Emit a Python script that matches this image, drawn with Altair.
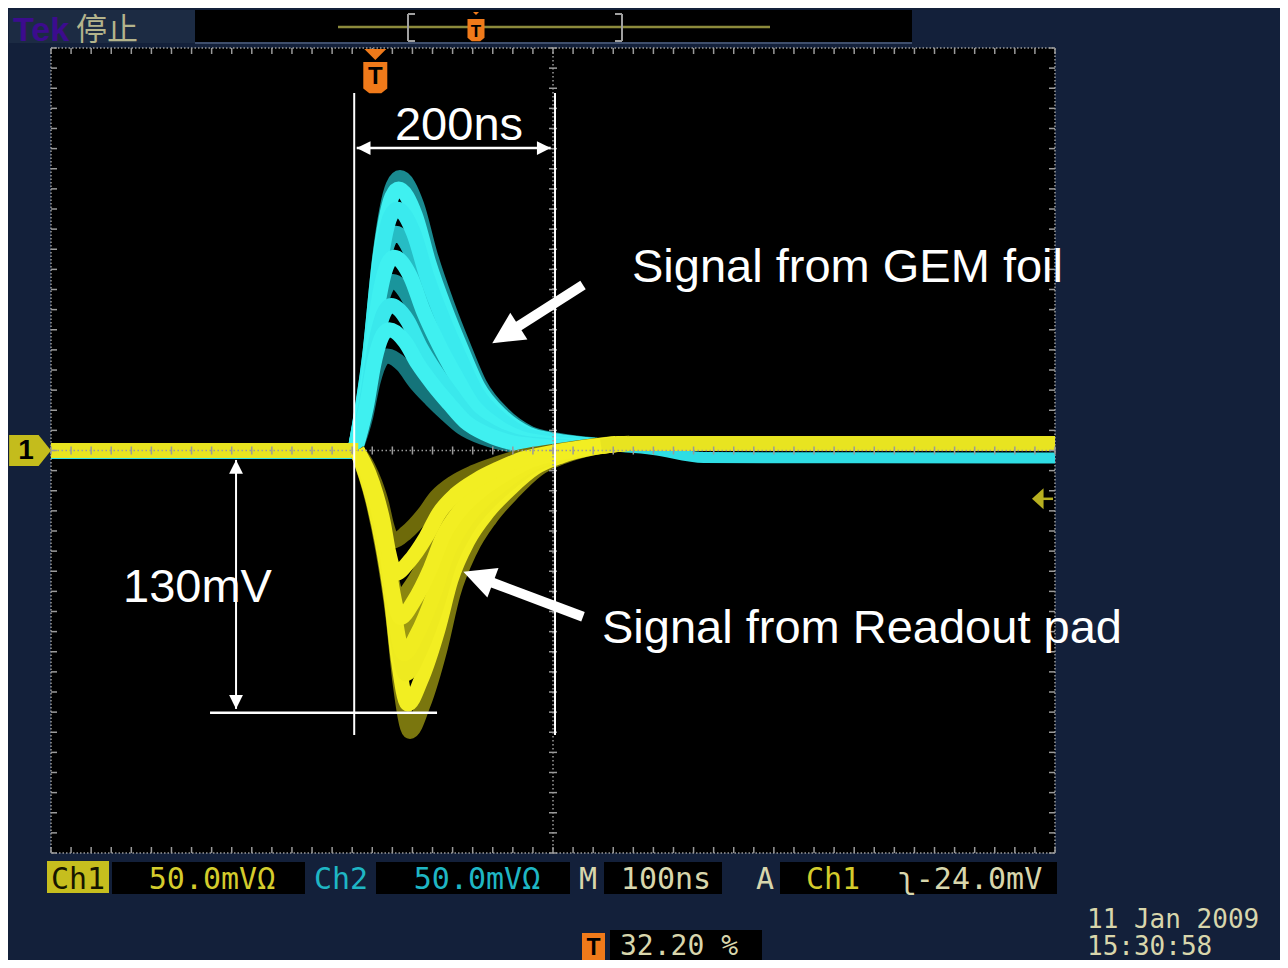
import altair as alt
import pandas as pd

# ---------------- values read from the oscilloscope screen ----------------
# time: ns from the left graticule edge (100 ns/div); voltage: mV (50 mV/div)
X_DOMAIN = [0, 1000]
Y_DOMAIN = [-200, 200]

# Ch2 (cyan, signal from GEM foil) - persistence traces, outer -> inner
CH2_T = [
    [302.8, 317.7, 327.7, 340.6, 347.6, 364.2, 377.5, 394.1, 410.4, 427.1, 450.2, 477.1, 504.0, 543.6],
    [302.8, 317.3, 327.0, 339.5, 346.3, 362.8, 376.1, 392.6, 408.8, 425.4, 448.4, 475.2, 501.9, 541.3],
    [302.8, 316.8, 326.2, 338.2, 344.8, 361.2, 374.4, 390.8, 407.0, 423.5, 446.4, 473.0, 499.6, 538.8],
    [302.8, 316.3, 325.3, 337.0, 343.3, 359.6, 372.6, 388.9, 404.8, 421.2, 443.8, 470.2, 496.6, 535.4],
    [302.8, 315.8, 324.5, 335.7, 341.8, 358.0, 371.0, 387.1, 403.0, 419.3, 441.8, 468.1, 494.3, 532.9],
    [302.8, 315.3, 323.7, 334.5, 340.3, 356.4, 369.3, 385.4, 401.2, 417.4, 439.8, 465.9, 492.0, 530.4],
    [302.8, 314.8, 322.8, 333.2, 338.8, 354.7, 367.5, 383.4, 399.1, 415.1, 437.3, 463.1, 488.9, 527.0],
    [302.8, 314.1, 321.7, 331.5, 336.8, 352.6, 365.2, 381.0, 396.5, 412.3, 434.3, 459.8, 485.4, 523.0],
    [302.8, 313.5, 320.6, 329.8, 334.8, 350.4, 362.9, 378.5, 393.8, 409.5, 431.2, 456.5, 481.8, 519.0],
]
CH2_V = [
    [0, 48.8, 97.6, 131.5, 135.6, 122.1, 97.6, 73.2, 52.3, 32.8, 18.1, 8.5, 5.2, 2.7],
    [0, 46.8, 93.6, 126.1, 130.0, 117.0, 93.6, 70.2, 50.2, 31.5, 17.4, 8.2, 4.9, 2.6],
    [0, 43.2, 86.4, 116.4, 120.0, 108.0, 86.4, 64.8, 46.3, 29.0, 16.1, 7.6, 4.6, 2.4],
    [0, 38.9, 77.8, 104.8, 108.0, 97.2, 77.8, 58.3, 41.7, 26.1, 14.5, 6.8, 4.1, 2.2],
    [0, 34.6, 69.1, 93.1, 96.0, 86.4, 69.1, 51.8, 37.1, 23.2, 12.9, 6.0, 3.6, 1.9],
    [0, 30.2, 60.5, 81.5, 84.0, 75.6, 60.5, 45.4, 32.4, 20.3, 11.3, 5.3, 3.2, 1.7],
    [0, 25.9, 51.8, 69.8, 72.0, 64.8, 51.8, 38.9, 27.8, 17.4, 9.6, 4.5, 2.7, 1.4],
    [0, 21.6, 43.2, 58.2, 60.0, 54.0, 43.2, 32.4, 23.2, 14.5, 8.0, 3.8, 2.3, 1.2],
    [0, 16.9, 33.8, 45.6, 47.0, 42.3, 33.8, 25.4, 18.1, 11.4, 6.3, 3.0, 1.8, 0.9],
]
CH2_SHADE = ["#1a8a90", "#3ff0f0", "#3aeaee", "#26bcc4", "#3ff0f0", "#1a959c", "#3ae8ec", "#3ff0f0", "#15747a"]
CH2_BASE_T = [0, 304]
CH2_BASE_V = [-1.5, -1.5]
CH2_TAIL_T = [536, 600, 650, 1000]
CH2_TAIL_V = [2.8, 0.5, -3.5, -3.7]

# Ch1 (yellow, signal from readout pad) - persistence traces, outer -> inner
CH1_T = [
    [305, 320.7, 330.7, 340.6, 347.6, 357.6, 370.5, 387.5, 400.4, 417.3, 437.3, 460.2, 484.1, 510.0, 543.8, 576.6],
    [305, 320.0, 329.7, 339.2, 345.9, 355.5, 368.4, 385.4, 398.3, 415.2, 435.2, 458.1, 482.0, 507.9, 541.7, 574.5],
    [305, 319.5, 328.7, 337.8, 344.3, 353.5, 366.4, 383.4, 396.3, 413.2, 433.2, 456.1, 480.0, 505.9, 539.7, 572.5],
    [305, 318.9, 327.7, 336.5, 342.7, 351.5, 364.4, 381.4, 394.3, 411.2, 431.2, 454.1, 478.0, 503.9, 537.7, 570.5],
    [305, 318.4, 327.0, 335.5, 341.5, 350.0, 362.9, 379.9, 392.8, 409.7, 429.7, 452.6, 476.5, 502.4, 536.2, 569.0],
    [305, 317.8, 326.0, 334.1, 339.8, 348.0, 360.9, 377.9, 390.8, 407.7, 427.7, 450.6, 474.5, 500.4, 534.2, 567.0],
    [305, 317.2, 325.0, 332.8, 338.2, 346.0, 358.9, 375.9, 388.8, 405.7, 425.7, 448.6, 472.5, 498.4, 532.2, 565.0],
    [305, 316.5, 323.8, 331.1, 336.2, 343.5, 356.4, 373.4, 386.3, 403.2, 423.2, 446.1, 470.0, 495.9, 529.7, 562.5],
    [305, 315.7, 322.6, 329.4, 334.2, 341.0, 353.9, 370.9, 383.8, 400.7, 420.7, 443.6, 467.5, 493.4, 527.2, 560.0],
]
CH1_V = [
    [0, -25.6, -49.8, -82.5, -115.2, -139.6, -126.4, -98.5, -71.3, -49.8, -33.8, -20.7, -9.5, -3.0, 1.7, 3.7],
    [0, -23.1, -45.0, -74.5, -104.0, -126.0, -114.2, -89.0, -64.4, -45.0, -30.5, -18.6, -8.6, -2.8, 1.5, 3.5],
    [0, -20.3, -39.6, -65.6, -91.6, -111.0, -100.6, -78.4, -56.7, -39.6, -26.9, -16.4, -7.5, -2.4, 1.5, 3.5],
    [0, -18.5, -36.1, -59.7, -83.3, -101.0, -91.5, -71.3, -51.6, -36.1, -24.4, -14.9, -6.9, -2.2, 1.5, 3.5],
    [0, -17.0, -33.2, -55.0, -76.7, -93.0, -84.3, -65.7, -47.5, -33.2, -22.5, -13.8, -6.3, -2.0, 1.5, 3.5],
    [0, -15.2, -29.6, -49.1, -68.5, -83.0, -75.2, -58.6, -42.4, -29.6, -20.1, -12.3, -5.6, -1.8, 1.5, 3.5],
    [0, -13.5, -26.4, -43.7, -61.1, -74.0, -67.0, -52.2, -37.8, -26.4, -17.9, -11.0, -5.0, -1.6, 1.5, 3.5],
    [0, -11.2, -21.8, -36.1, -50.3, -61.0, -55.3, -43.1, -31.2, -21.8, -14.8, -9.0, -4.1, -1.3, 1.5, 3.5],
    [0, -8.2, -16.1, -26.6, -37.1, -45.0, -40.8, -31.8, -23.0, -16.1, -10.9, -6.7, -3.1, -1.0, 1.5, 3.5],
]
CH1_SHADE = ["#7a760e", "#f2ee22", "#eeea20", "#f0ec20", "#9a9612", "#f2ee22", "#8a860f", "#f2ee22", "#6e6a0a"]
CH1_BASE_T = [0, 306]
CH1_BASE_V = [0, 0]
CH1_TAIL_T = [548, 578, 1000]
CH1_TAIL_V = [2.0, 3.5, 3.5]

TRIGGER_T = 323          # trigger position (32.20 %)
TRIGGER_LEVEL = -24.0    # mV

# white annotations drawn over the screen shot
MARK_LINE_T = [302, 502]
MARK_LINE_V = [177.6, -141.4]
SPAN_V = 150.3
SPAN_T = [304.5, 497.7]
AMP_T = 184.3
AMP_V = [-4.7, -128.4]
AMP_BASE_V = -130.3
AMP_BASE_T = [158.4, 384.5]
NOTE_TEXT = ["200ns", "130mV", "Signal from GEM foil", "Signal from Readout pad"]
NOTE_T = [342.6, 71.7, 578.7, 548.8]
NOTE_V = [154.3, -75.3, 83.7, -95.7]
BIG_ARROW_TAIL_T = [529.9, 529.9]
BIG_ARROW_TAIL_V = [82.2, -82.6]
BIG_ARROW_NECK_T = [460.4, 434.0]
BIG_ARROW_NECK_V = [60.1, -64.6]
BIG_ARROW_TIP_T = [439.5, 410.7]
BIG_ARROW_TIP_V = [53.3, -60.2]
BIG_ARROW_ANGLE = [237.2, 290.6]

# ---------------- layout ----------------
W, H = 1004, 805           # graticule size in px
OX, OY = 51, 48            # graticule origin on the page
TOTAL_W, TOTAL_H = 1272, 952
NAVY = "#13203a"
MONO = "DejaVu Sans Mono"
SANS = "Liberation Sans"

xs = alt.Scale(domain=X_DOMAIN, nice=False, zero=False)
ys = alt.Scale(domain=Y_DOMAIN, nice=False, zero=False)
XE = alt.X("t:Q", scale=xs, axis=None)
YE = alt.Y("v:Q", scale=ys, axis=None)
ONE = pd.DataFrame({"k": [0]})

layers = []


def rect(x1, x2, y1, y2, color):
    return alt.Chart(ONE).mark_rect(color=color).encode(
        x=alt.value(x1 - OX), x2=alt.value(x2 - OX), y=alt.value(y1 - OY), y2=alt.value(y2 - OY))


def hline(x1, x2, y, color, w):
    return alt.Chart(ONE).mark_rule(color=color, strokeWidth=w).encode(
        x=alt.value(x1 - OX), x2=alt.value(x2 - OX), y=alt.value(y - OY))


def vline(x, y1, y2, color, w):
    return alt.Chart(ONE).mark_rule(color=color, strokeWidth=w).encode(
        x=alt.value(x - OX), y=alt.value(y1 - OY), y2=alt.value(y2 - OY))


def label(s, x, y, color, size, font=MONO, align="left", weight="normal", baseline="alphabetic"):
    return alt.Chart(ONE).mark_text(text=s, color=color, fontSize=size, font=font, align=align,
                                    fontWeight=weight, baseline=baseline).encode(
        x=alt.value(x - OX), y=alt.value(y - OY))


def glyph(path, x, y, size, color, angle=0):
    return alt.Chart(ONE).mark_point(shape=path, filled=True, size=size, color=color, opacity=1,
                                     strokeWidth=0, angle=angle).encode(
        x=alt.value(x - OX), y=alt.value(y - OY))


TRI_DOWN = "M -1 0 L 1 0 L 0 1 Z"
BADGE = "M -1 0 L 1 0 L 1 2.2 L 0.5 2.6 L -0.5 2.6 L -1 2.2 Z"
HEAD = "M 0 0 L 1 2 L -1 2 Z"
PENTA = "M 0 0 L -0.8 -1 L -2.7 -1 L -2.7 1 L -0.8 1 Z"
LEFT_TRI = "M 0 0 L 1.1 -1 L 1.1 1 Z"

# ---- top bar
layers += [
    rect(9, 195, 10, 43, "#1c2b43"),
    rect(195, 912, 10, 42, "#000000"),
    rect(195, 912, 42, 44, "#3e4e6c"),
    hline(338, 770, 27, "#8c8a3c", 2.5),
    vline(408, 14, 41, "#a0a0a0", 2), hline(408, 415, 14, "#a0a0a0", 2), hline(408, 415, 41, "#a0a0a0", 2),
    vline(622, 14, 41, "#a0a0a0", 2), hline(615, 622, 14, "#a0a0a0", 2), hline(615, 622, 41, "#a0a0a0", 2),
    glyph(TRI_DOWN, 476, 12, 36, "#f07a1a"),
    glyph(BADGE, 476, 19, 290, "#f07a1a"),
    label("T", 476, 37, "#000000", 17, font=SANS, align="center", weight="bold"),
    label("Tek", 13, 41, "#3c0c8e", 34, font=SANS, weight="bold"),
    label("停止", 76, 40, "#b4b48c", 31, font="Noto Sans CJK SC"),
]

# ---- graticule grid (dotted), drawn above traces
grid_layer = alt.Chart(ONE).mark_point(opacity=0).encode(
    x=alt.X("k:Q", scale=xs, axis=alt.Axis(values=[100, 200, 300, 400, 600, 700, 800, 900], grid=True,
                                            gridDash=[2.5, 17.6], gridColor="#a4a4a4", gridWidth=2.5,
                                            labels=False, ticks=False, domain=False, title="", zindex=1)),
    y=alt.Y("k:Q", scale=ys, axis=alt.Axis(values=[-150, -100, -50, 50, 100, 150], grid=True,
                                            gridDash=[2.5, 17.58], gridColor="#a4a4a4", gridWidth=2.5,
                                            labels=False, ticks=False, domain=False, title="", zindex=1)),
)

# ---- traces
TW = 15
tr_layers = []
for ts, vs in ((CH2_BASE_T, CH2_BASE_V), (CH2_TAIL_T, CH2_TAIL_V)):
    tr_layers.append(alt.Chart(pd.DataFrame({"t": ts, "v": vs})).mark_line(
        color="#2fdde4", strokeWidth=11, interpolate="monotone").encode(x=XE, y=YE))
order2 = [0, 3, 5, 8, 1, 2, 4, 6, 7]
for i in order2:
    tr_layers.append(alt.Chart(pd.DataFrame({"t": CH2_T[i], "v": CH2_V[i]})).mark_line(
        color=CH2_SHADE[i], strokeWidth=TW, interpolate="monotone", strokeCap="butt").encode(x=XE, y=YE))
tr_layers.append(alt.Chart(pd.DataFrame({"t": CH1_BASE_T, "v": CH1_BASE_V})).mark_line(
    color="#e8e420", strokeWidth=15).encode(x=XE, y=YE))
order1 = [0, 4, 6, 8, 1, 2, 3, 5, 7]
for i in order1:
    tr_layers.append(alt.Chart(pd.DataFrame({"t": CH1_T[i], "v": CH1_V[i]})).mark_line(
        color=CH1_SHADE[i], strokeWidth=TW, interpolate="monotone", strokeCap="butt").encode(x=XE, y=YE))
tr_layers.append(alt.Chart(pd.DataFrame({"t": CH1_TAIL_T, "v": CH1_TAIL_V})).mark_line(
    color="#e8e420", strokeWidth=15, interpolate="monotone", strokeCap="butt").encode(x=XE, y=YE))

# ---- centre lines and ruler ticks
MINOR_T = list(range(0, 1001, 20))
MINOR_V = list(range(-200, 201, 10))
GRAY = "#9a9a9a"
dt = pd.DataFrame({"t": MINOR_T})
dv = pd.DataFrame({"v": MINOR_V})
y0 = H / 2
x0 = W / 2
tick_layers = [
    alt.Chart(pd.DataFrame({"t": [500]})).mark_rule(color=GRAY, strokeWidth=1.5, strokeDash=[1.5, 2.5]).encode(x=XE),
    alt.Chart(pd.DataFrame({"v": [0]})).mark_rule(color=GRAY, strokeWidth=1.5, strokeDash=[1.5, 2.5]).encode(y=YE),
    alt.Chart(dt).mark_rule(color=GRAY, strokeWidth=1.5).encode(x=XE, y=alt.value(y0 - 4), y2=alt.value(y0 + 4)),
    alt.Chart(dv).mark_rule(color=GRAY, strokeWidth=1.5).encode(y=YE, x=alt.value(x0 - 4), x2=alt.value(x0 + 4)),
    alt.Chart(dt).mark_rule(color=GRAY, strokeWidth=1.5).encode(x=XE, y=alt.value(0), y2=alt.value(6)),
    alt.Chart(dt).mark_rule(color=GRAY, strokeWidth=1.5).encode(x=XE, y=alt.value(H - 6), y2=alt.value(H)),
    alt.Chart(dv).mark_rule(color=GRAY, strokeWidth=1.5).encode(y=YE, x=alt.value(0), x2=alt.value(6)),
    alt.Chart(dv).mark_rule(color=GRAY, strokeWidth=1.5).encode(y=YE, x=alt.value(W - 6), x2=alt.value(W)),
]

# ---- markers: channel 1 ground, trigger position, trigger level
ORANGE = "#f07a1a"
marker_layers = [
    alt.Chart(pd.DataFrame({"v": [0]})).mark_point(shape=PENTA, filled=True, size=961, color="#c4bc1c",
                                                   opacity=1, strokeWidth=0).encode(x=alt.value(0), y=YE),
    alt.Chart(pd.DataFrame({"v": [0]})).mark_text(text="1", color="#000000", fontSize=28, font=SANS,
                                                  fontWeight="bold", align="center", baseline="middle").encode(
        x=alt.value(26 - OX), y=YE),
    alt.Chart(pd.DataFrame({"t": [TRIGGER_T]})).mark_point(shape=TRI_DOWN, filled=True, size=484, color=ORANGE,
                                                          opacity=1, strokeWidth=0).encode(x=XE, y=alt.value(1)),
    alt.Chart(pd.DataFrame({"t": [TRIGGER_T]})).mark_point(shape=BADGE, filled=True, size=576, color=ORANGE,
                                                          opacity=1, strokeWidth=0).encode(x=XE, y=alt.value(14)),
    alt.Chart(pd.DataFrame({"t": [TRIGGER_T]})).mark_text(text="T", color="#000000", fontSize=24, font=SANS,
                                                         fontWeight="bold", align="center", baseline="middle").encode(
        x=XE, y=alt.value(29)),
    alt.Chart(pd.DataFrame({"v": [TRIGGER_LEVEL]})).mark_point(shape=LEFT_TRI, filled=True, size=441,
                                                              color="#b8b020", opacity=1, strokeWidth=0).encode(
        x=alt.value(981), y=YE),
    alt.Chart(pd.DataFrame({"v": [TRIGGER_LEVEL]})).mark_rule(color="#b8b020", strokeWidth=2.5).encode(
        x=alt.value(990), x2=alt.value(1002), y=YE),
]

# ---- white annotations
WHITE = "#ffffff"
note_layers = [
    alt.Chart(pd.DataFrame({"t": MARK_LINE_T, "v": [MARK_LINE_V[0]] * 2, "v2": [MARK_LINE_V[1]] * 2})).mark_rule(
        color=WHITE, strokeWidth=2).encode(x=XE, y=YE, y2="v2:Q"),
    alt.Chart(pd.DataFrame({"t": [SPAN_T[0]], "t2": [SPAN_T[1]], "v": [SPAN_V]})).mark_rule(
        color=WHITE, strokeWidth=2.5).encode(x=XE, x2="t2:Q", y=YE),
    alt.Chart(pd.DataFrame({"t": [AMP_T], "v": [AMP_V[0]], "v2": [AMP_V[1]]})).mark_rule(
        color=WHITE, strokeWidth=2).encode(x=XE, y=YE, y2="v2:Q"),
    alt.Chart(pd.DataFrame({"t": [AMP_BASE_T[0]], "t2": [AMP_BASE_T[1]], "v": [AMP_BASE_V]})).mark_rule(
        color=WHITE, strokeWidth=2.5).encode(x=XE, x2="t2:Q", y=YE),
    alt.Chart(pd.DataFrame({"t": SPAN_T + [AMP_T, AMP_T], "v": [SPAN_V, SPAN_V] + AMP_V,
                            "a": [270, 90, 0, 180]})).mark_point(
        shape=HEAD, filled=True, size=190, color=WHITE, opacity=1, strokeWidth=0).encode(
        x=XE, y=YE, angle=alt.Angle("a:Q", scale=None)),
    alt.Chart(pd.DataFrame({"t": BIG_ARROW_TAIL_T, "t2": BIG_ARROW_NECK_T, "v": BIG_ARROW_TAIL_V,
                            "v2": BIG_ARROW_NECK_V})).mark_rule(color=WHITE, strokeWidth=10).encode(
        x=XE, x2="t2:Q", y=YE, y2="v2:Q"),
    alt.Chart(pd.DataFrame({"t": BIG_ARROW_TIP_T, "v": BIG_ARROW_TIP_V, "a": BIG_ARROW_ANGLE})).mark_point(
        shape=HEAD, filled=True, size=1000, color=WHITE, opacity=1, strokeWidth=0).encode(
        x=XE, y=YE, angle=alt.Angle("a:Q", scale=None)),
    alt.Chart(pd.DataFrame({"t": NOTE_T, "v": NOTE_V, "s": NOTE_TEXT})).mark_text(
        color=WHITE, fontSize=47, font=SANS, align="left", baseline="alphabetic").encode(x=XE, y=YE, text="s:N"),
]

# ---- status bar
PALE = "#d8d6ac"
YEL = "#d4cc2c"
CYAN = "#1fb6c4"
status = [
    rect(47, 109, 861, 893, "#c6be1e"),
    label("Ch1", 78, 889, "#161600", 30, align="center"),
    rect(112, 305, 862, 894, "#000000"),
    label("50.0mVΩ", 212, 889, YEL, 30, align="center"),
    label("Ch2", 341, 889, CYAN, 30, align="center"),
    rect(376, 570, 862, 894, "#000000"),
    label("50.0mVΩ", 477, 889, CYAN, 30, align="center"),
    label("M", 588, 889, PALE, 30, align="center"),
    rect(604, 722, 862, 894, "#000000"),
    label("100ns", 666, 889, PALE, 30, align="center"),
    label("A", 765, 889, PALE, 30, align="center"),
    rect(780, 1057, 862, 894, "#000000"),
    label("Ch1", 833, 889, YEL, 30, align="center"),
    label("ʅ-24.0mV", 970, 889, PALE, 30, align="center"),
    rect(582, 605, 933, 960, ORANGE),
    label("T", 593.5, 955, "#000000", 23, font=SANS, align="center", weight="bold"),
    rect(610, 762, 930, 960, "#000000"),
    label("32.20 %", 679, 955, PALE, 28, align="center"),
    label("11 Jan  2009", 1087, 928, PALE, 26),
    label("15:30:58", 1087, 955, PALE, 26),
]

chart = alt.layer(
    grid_layer, *layers, *tr_layers, *tick_layers, *marker_layers, *note_layers, *status
).properties(
    width=W, height=H, background=NAVY,
    padding={"left": OX - 8, "top": OY - 8, "right": TOTAL_W - (OX - 8) - W, "bottom": TOTAL_H - (OY - 8) - H},
    autosize=alt.AutoSizeParams(type="none"),
).configure_view(
    fill="#000000", stroke="#9a9a9a", strokeDash=[1.5, 2], strokeWidth=1.5
)

chart.save("out.html", embed_options={"renderer": "svg", "actions": False})
